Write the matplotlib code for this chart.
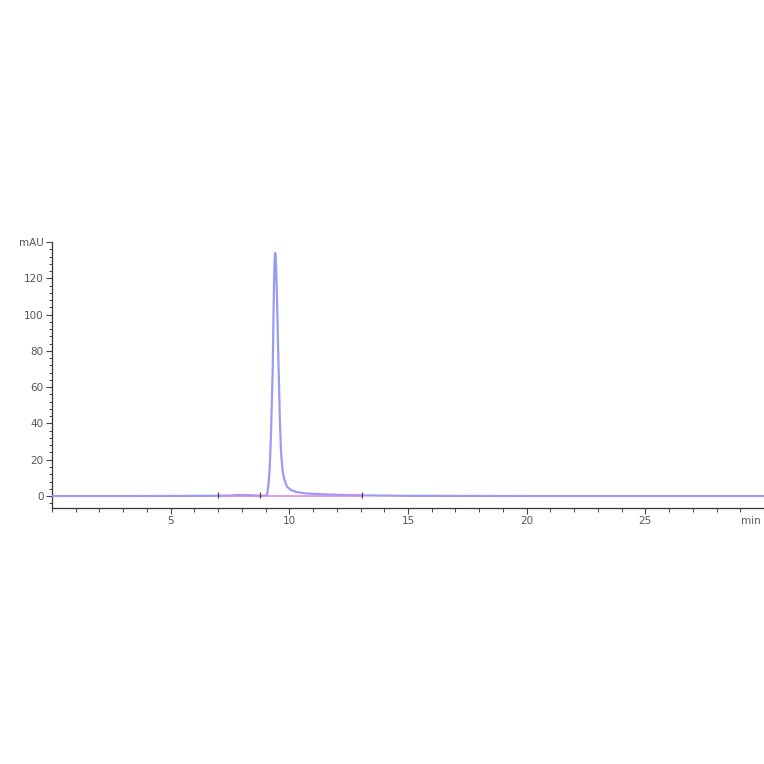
import matplotlib
matplotlib.use('Agg')
import matplotlib.pyplot as plt
from matplotlib.ticker import MultipleLocator

# chromatogram trace (time in min, signal in mAU)
time_min = [0.0, 3.5, 6.9, 7.0, 7.5, 7.8, 8.1, 8.4, 8.8, 9.00, 9.06, 9.09,
            9.13, 9.17, 9.20, 9.23, 9.26, 9.30, 9.33, 9.36, 9.38, 9.40, 9.42,
            9.44, 9.48, 9.52, 9.55, 9.60, 9.65, 9.72, 9.79, 9.90, 10.07,
            10.3, 10.7, 11.5, 12.5, 13.5, 15.0, 20.0, 25.0, 30.0]
signal_mau = [0.0, 0.0, 0.1, 0.2, 0.2, 0.6, 0.5, 0.4, 0.1, 0.2, 0.6, 3.0,
              8.0, 15.0, 24.0, 36.0, 50.0, 70.0, 98.0, 120.0, 130.0, 134.0, 133.0,
              128.0, 110.0, 86.0, 69.0, 42.0, 24.0, 13.5, 9.0, 5.2, 3.3,
              2.2, 1.4, 0.9, 0.5, 0.3, 0.1, 0.0, 0.0, 0.0]

# integration baseline and event marks
baseline_t = [7.0, 13.07]
baseline_y = [0.0, 0.0]
event_t = [7.0, 8.78, 13.07]
event_y = [0.8, 0.5, 0.5]

x_ticks = [5, 10, 15, 20, 25, 30]
x_labels = ['5', '10', '15', '20', '25', '']
x_unit = 'min'
y_ticks = [0, 20, 40, 60, 80, 100, 120, 140]
y_labels = ['0', '20', '40', '60', '80', '100', '120', 'mAU']

fig = plt.figure(figsize=(7.64, 7.64), dpi=100)
ax = fig.add_axes([52/764, 256/764, 712/764, 266/764])

ax.plot(time_min, signal_mau, color='#9b9bf5', lw=1.6, zorder=3)
ax.plot(baseline_t, baseline_y, color='#e27ee6', lw=1.1, zorder=4)
ax.plot(event_t, event_y, ls='none', marker='|', ms=5, mew=0.9, color='#444444', zorder=5)

ax.set_xlim(0, 30)
ax.set_ylim(-6.6, 140)

ax.set_xticks(x_ticks)
ax.set_xticklabels(x_labels)
ax.set_yticks(y_ticks)
ax.set_yticklabels(y_labels)
ax.xaxis.set_minor_locator(MultipleLocator(1))
ax.yaxis.set_minor_locator(MultipleLocator(4))

# unit label at the right end of the time axis, kept inside the figure
ax.annotate(x_unit, xy=(30, 0), xycoords=('data', 'axes fraction'),
            xytext=(-2, -6), textcoords='offset points',
            ha='right', va='top', fontsize=7.5, color='#555555')

for s in ['top', 'right']:
    ax.spines[s].set_visible(False)
for s in ['left', 'bottom']:
    ax.spines[s].set_color('#333333')
    ax.spines[s].set_linewidth(0.9)

ax.tick_params(axis='both', which='major', direction='out', length=4, width=0.8,
               color='#444444', labelcolor='#555555', labelsize=7.5, pad=2)
ax.tick_params(axis='x', which='minor', direction='out', length=3, width=0.7, color='#444444')
ax.tick_params(axis='y', which='minor', direction='out', length=2.5, width=0.7, color='#444444')

plt.savefig('out.png', dpi=100)
